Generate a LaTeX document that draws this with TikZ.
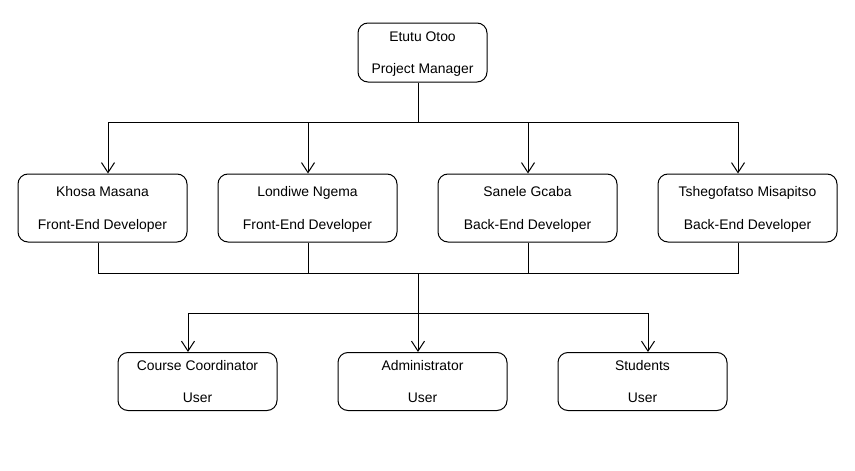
\documentclass[tikz,border=0pt]{standalone}
\usepackage{fontspec}
\setmainfont{Liberation Sans}
\usepackage{tikz}
\usetikzlibrary{positioning, arrows.meta}

\begin{document}
\begin{tikzpicture}[
    x=1pt, y=-1pt,
    font=\fontsize{13.9}{32.5}\selectfont,
    card/.style={rectangle, rounded corners=10pt, draw, line width=1pt,
        minimum height=68pt, align=center, inner sep=0pt, fill=white, text depth=0pt},
    link/.style={line width=1pt},
    arr/.style={-{Straight Barb[length=10pt, width=13pt, line width=1pt]}, line width=1pt}
]
\fill[white] (0,0) rectangle (855,471);
\useasboundingbox (0,0) rectangle (855,471);

% manager
\node[card, minimum width=129pt, minimum height=59pt] (pm) at (422.5,52.5) {Etutu Otoo\\Project Manager};

% developers
\node[card, minimum width=169pt] (khosa)   at (102.5,208) {Khosa Masana\\Front-End Developer};
\node[card, minimum width=179pt] (londiwe) at (307.5,208) {Londiwe Ngema\\Front-End Developer};
\node[card, minimum width=179pt] (sanele)  at (527.5,208) {Sanele Gcaba\\Back-End Developer};
\node[card, minimum width=179pt] (tshego)  at (747.5,208) {Tshegofatso Misapitso\\Back-End Developer};

% users
\node[card, minimum width=159pt, minimum height=58pt] (coord)    at (197.5,381.5) {Course Coordinator\\User};
\node[card, minimum width=169pt, minimum height=58pt] (admin)    at (422.5,381.5) {Administrator\\User};
\node[card, minimum width=169pt, minimum height=58pt] (students) at (642.5,381.5) {Students\\User};

\coordinate (topbus) at (418,122);
\coordinate (midbus) at (418,273);
\coordinate (lowbus) at (418,313);

\draw[link] ([xshift=-4.5]pm.south) -- (topbus);
\foreach \n/\dx in {khosa/5.5, londiwe/0.5, sanele/0.5, tshego/-9.5}
    \draw[arr] (topbus) -| ([xshift=\dx]\n.north);

\foreach \n/\dx in {khosa/-4.5, londiwe/0.5, sanele/0.5, tshego/-9.5}
    \draw[link] ([xshift=\dx]\n.south) |- (midbus);
\draw[arr] (midbus) -- ([xshift=-4.5]admin.north);
\draw[arr] (lowbus) -| ([xshift=-9.5]coord.north);
\draw[arr] (lowbus) -| ([xshift=5.5]students.north);
\end{tikzpicture}
\end{document}
